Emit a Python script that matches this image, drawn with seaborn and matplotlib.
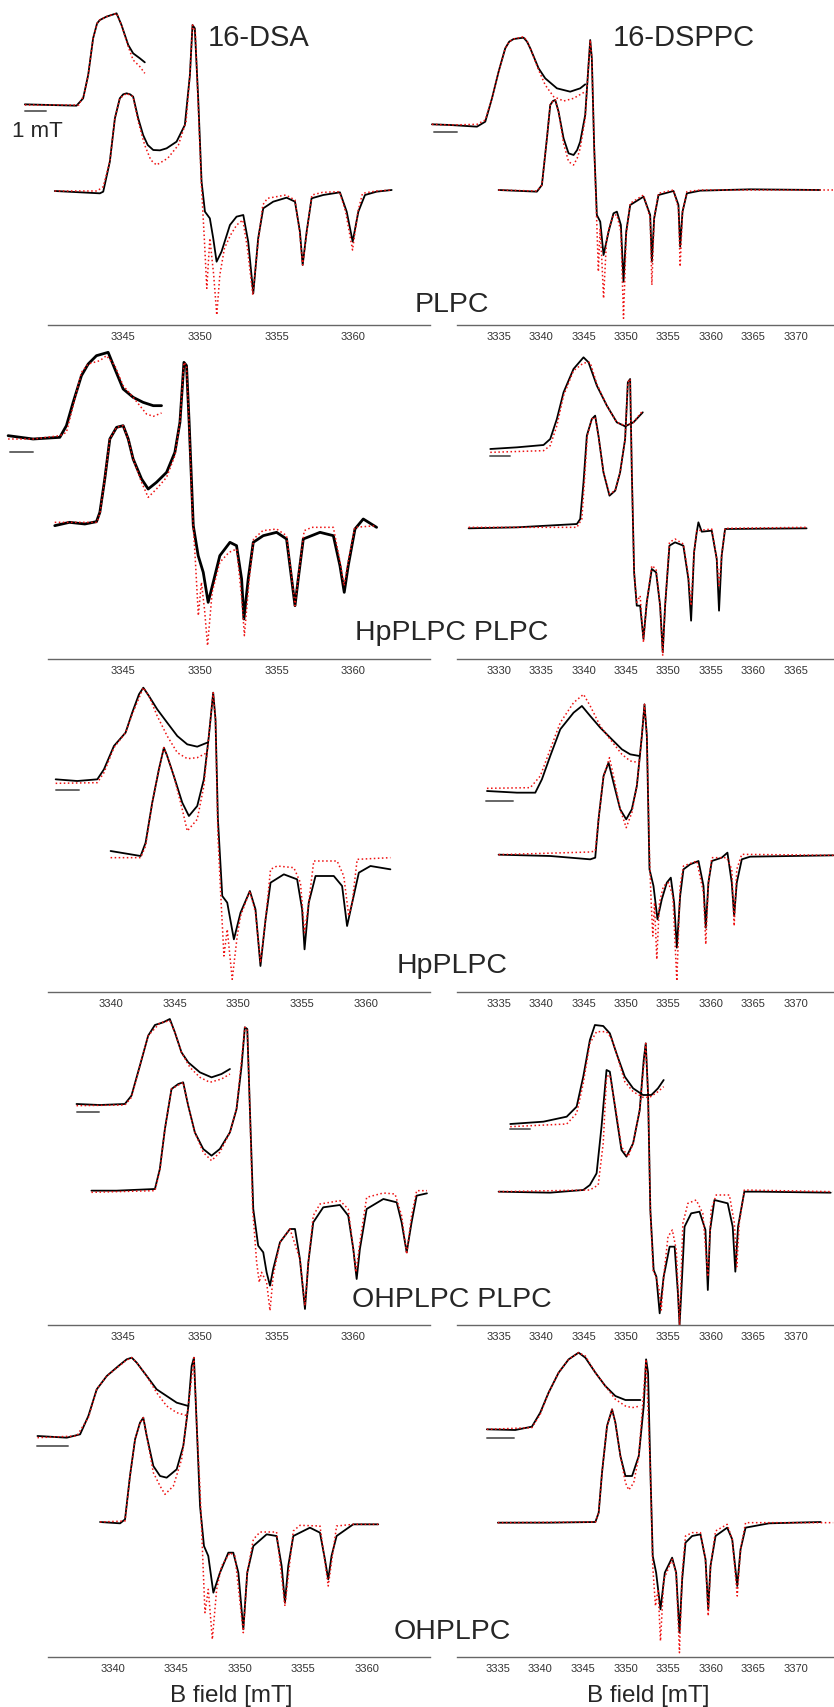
import pandas as pd
import seaborn as sns
import matplotlib
matplotlib.use("Agg")
import matplotlib.pyplot as plt

# spectra: (field [mT], signal [a.u.])
# ---- row 1, 16-DSA in PLPC
r1l_main_exp = [(3340.54,402),(3343.48,395),(3343.70,400),(3344.13,490),(3344.46,620),(3344.78,680),(3345.00,692),(3345.22,695),(3345.45,692),(3345.65,685),(3345.98,620),(3346.30,570),(3346.60,540),(3346.96,525),(3347.40,524),(3347.83,530),(3348.48,550),(3349.02,600),(3349.35,750),(3349.52,900),(3349.67,890),(3349.89,680),(3350.11,430),(3350.33,340),(3350.65,320),(3350.87,260),(3351.09,190),(3351.41,220),(3351.96,300),(3352.39,325),(3352.83,330),(3353.15,250),(3353.48,95),(3353.80,260),(3354.13,350),(3354.78,370),(3355.65,382),(3356.20,370),(3356.52,280),(3356.70,180),(3356.96,280),(3357.28,380),(3358.04,390),(3359.13,398),(3359.57,340),(3359.96,250),(3360.33,340),(3360.76,390),(3361.52,400),(3362.50,405)]
r1l_main_fit = [(3340.54,402),(3343.30,402),(3343.70,415),(3344.13,490),(3344.46,620),(3344.78,680),(3345.22,695),(3345.65,685),(3345.98,610),(3346.40,540),(3346.80,495),(3347.17,480),(3347.90,500),(3348.60,540),(3349.10,610),(3349.35,750),(3349.52,900),(3349.70,880),(3349.90,650),(3350.10,420),(3350.30,250),(3350.45,110),(3350.65,260),(3350.90,150),(3351.10,30),(3351.30,150),(3351.60,230),(3352.00,270),(3352.40,300),(3352.80,315),(3353.10,230),(3353.45,90),(3353.80,250),(3354.10,360),(3354.40,380),(3355.60,390),(3356.20,375),(3356.50,280),(3356.70,180),(3357.00,290),(3357.30,390),(3358.00,398),(3359.10,400),(3359.50,340),(3359.95,225),(3360.30,340),(3360.60,395),(3361.50,402),(3362.50,405)]
r1l_zoom_exp = [(3338.59,662),(3340.22,660),(3341.96,658),(3342.39,680),(3342.72,750),(3343.04,860),(3343.30,905),(3343.48,915),(3343.91,925),(3344.57,935),(3344.89,900),(3345.33,840),(3345.65,815),(3346.09,800),(3346.41,788)]
r1l_zoom_fit = [(3338.59,660),(3340.22,660),(3342.10,660),(3342.45,690),(3342.72,750),(3343.04,860),(3343.30,905),(3343.48,915),(3343.91,925),(3344.57,935),(3344.89,900),(3345.33,835),(3345.65,795),(3346.09,775),(3346.41,755)]
# ---- row 1, 16-DSPPC in PLPC
r1r_main_exp = [(3335.0,405),(3339.51,400),(3340.10,420),(3340.69,560),(3341.08,660),(3341.40,672),(3341.67,675),(3342.06,640),(3342.65,560),(3343.24,515),(3343.83,510),(3344.25,525),(3344.61,550),(3345.20,630),(3345.59,780),(3345.79,855),(3345.98,800),(3346.26,530),(3346.57,330),(3346.97,310),(3347.36,210),(3347.95,280),(3348.53,335),(3348.93,340),(3349.40,300),(3349.71,130),(3350.03,280),(3350.50,360),(3352.07,385),(3352.85,330),(3353.05,190),(3353.32,320),(3353.83,390),(3355.60,402),(3356.18,360),(3356.38,235),(3356.66,340),(3357.17,395),(3358.73,403),(3364.62,407),(3372.86,405)]
r1r_main_fit = [(3335.0,405),(3339.51,402),(3340.10,420),(3340.69,560),(3341.08,660),(3341.40,672),(3341.67,675),(3342.06,640),(3342.65,545),(3343.24,490),(3343.83,480),(3344.25,500),(3344.61,530),(3345.20,620),(3345.59,780),(3345.79,855),(3345.98,800),(3346.26,530),(3346.57,300),(3346.75,160),(3346.95,290),(3347.15,200),(3347.36,80),(3347.70,250),(3348.00,290),(3348.53,330),(3348.93,330),(3349.40,280),(3349.71,20),(3350.03,270),(3350.50,365),(3352.07,390),(3352.85,320),(3353.05,120),(3353.32,320),(3353.83,395),(3355.60,405),(3356.18,350),(3356.38,175),(3356.66,340),(3357.17,400),(3358.73,405),(3364.62,405),(3374.40,405)]
r1r_zoom_exp = [(3327.15,602),(3329.31,600),(3332.45,595),(3333.43,610),(3334.22,680),(3335.00,760),(3335.78,830),(3336.25,850),(3336.77,858),(3337.94,862),(3338.35,850),(3338.73,830),(3339.71,770),(3340.49,740),(3341.87,710),(3343.43,700),(3344.61,710),(3345.20,722)]
r1r_zoom_fit = [(3327.15,602),(3329.31,600),(3332.45,602),(3333.43,615),(3334.22,680),(3335.00,760),(3335.78,830),(3336.25,850),(3336.77,858),(3337.94,865),(3338.35,852),(3338.73,830),(3339.71,765),(3340.49,720),(3341.48,685),(3342.66,672),(3343.83,680),(3345.20,700)]
# ---- row 2, HpPLPC PLPC
r2l_main_exp = [(3340.54,400),(3341.5,410),(3342.5,405),(3343.26,412),(3343.48,440),(3343.80,540),(3344.13,660),(3344.57,695),(3345.00,700),(3345.33,660),(3345.65,600),(3346.20,540),(3346.63,510),(3347.17,530),(3347.83,560),(3348.37,620),(3348.70,710),(3348.96,890),(3349.13,880),(3349.30,710),(3349.57,400),(3349.89,310),(3350.22,260),(3350.54,170),(3350.87,230),(3351.30,310),(3351.96,350),(3352.39,340),(3352.72,240),(3352.87,120),(3353.15,240),(3353.48,350),(3354.13,370),(3355.00,380),(3355.65,360),(3355.98,240),(3356.20,160),(3356.41,240),(3356.74,360),(3357.83,380),(3358.70,370),(3359.13,280),(3359.41,200),(3359.67,280),(3360.11,390),(3360.65,420),(3361.52,395)]
r2l_main_fit = [(3340.54,410),(3343.30,410),(3343.50,440),(3343.80,540),(3344.13,660),(3344.57,695),(3345.00,700),(3345.33,660),(3345.65,600),(3346.20,530),(3346.63,485),(3347.17,510),(3347.83,545),(3348.37,610),(3348.70,710),(3348.96,890),(3349.13,880),(3349.30,700),(3349.50,450),(3349.70,300),(3349.90,130),(3350.10,230),(3350.30,150),(3350.50,40),(3350.80,200),(3351.30,290),(3351.90,320),(3352.40,330),(3352.75,170),(3352.90,70),(3353.20,230),(3353.50,360),(3354.10,385),(3355.00,390),(3355.65,370),(3356.00,240),(3356.20,160),(3356.45,260),(3356.80,385),(3357.30,395),(3358.70,395),(3359.10,300),(3359.40,220),(3359.70,300),(3360.10,395),(3361.52,400)]
r2l_zoom_exp = [(3337.50,670),(3339.13,660),(3340.87,665),(3341.30,700),(3341.74,770),(3342.28,850),(3342.72,885),(3343.26,910),(3344.02,920),(3344.46,870),(3345.00,810),(3345.65,785),(3346.30,770),(3346.96,760),(3347.50,760)]
r2l_zoom_fit = [(3337.50,660),(3339.13,660),(3340.87,670),(3341.30,680),(3341.74,760),(3342.28,860),(3342.72,885),(3343.48,895),(3343.91,910),(3344.46,880),(3345.00,820),(3345.65,785),(3346.52,735),(3346.96,728),(3347.50,738)]
r2r_main_exp = [(3326.47,392),(3332.16,395),(3339.22,405),(3339.61,420),(3340.00,530),(3340.39,670),(3340.98,720),(3341.37,730),(3341.76,670),(3342.35,560),(3343.06,490),(3343.73,505),(3344.31,560),(3344.90,660),(3345.22,830),(3345.49,840),(3345.69,560),(3345.96,260),(3346.27,160),(3346.67,160),(3347.06,60),(3347.45,170),(3348.04,270),(3348.55,260),(3349.02,160),(3349.33,20),(3349.61,160),(3350.12,340),(3350.78,350),(3351.76,340),(3352.35,240),(3352.67,115),(3353.02,320),(3353.33,380),(3353.53,410),(3353.92,382),(3355.10,385),(3355.69,300),(3355.96,145),(3356.27,310),(3356.67,390),(3366.27,392)]
r2r_main_fit = [(3326.47,395),(3332.16,395),(3339.22,395),(3339.80,420),(3340.10,530),(3340.45,670),(3340.98,720),(3341.37,725),(3341.76,670),(3342.35,560),(3343.06,495),(3343.73,505),(3344.31,560),(3344.90,660),(3345.22,830),(3345.49,840),(3345.69,560),(3345.96,260),(3346.27,170),(3346.67,190),(3347.06,50),(3347.45,170),(3348.04,280),(3348.55,270),(3349.02,160),(3349.33,10),(3349.61,160),(3350.12,350),(3350.78,360),(3351.76,345),(3352.35,250),(3352.67,160),(3353.02,320),(3353.33,385),(3355.10,390),(3355.69,300),(3355.96,220),(3356.27,310),(3356.67,392),(3366.27,395)]
r2r_zoom_exp = [(3329.02,630),(3332.16,635),(3335.29,642),(3336.08,660),(3336.86,720),(3337.65,800),(3338.82,870),(3340.00,905),(3340.59,890),(3341.57,820),(3342.75,760),(3343.92,710),(3344.90,698),(3345.88,710),(3346.98,740)]
r2r_zoom_fit = [(3329.02,620),(3335.29,625),(3336.08,640),(3336.86,700),(3337.65,790),(3338.82,865),(3340.00,888),(3340.78,890),(3341.57,825),(3342.75,760),(3343.92,710),(3344.90,700),(3345.88,710),(3346.98,745)]
# ---- row 3, HpPLPC
r3l_main_exp = [(3340.00,423),(3342.35,408),(3342.74,448),(3343.26,568),(3343.78,668),(3344.17,733),(3344.43,708),(3344.95,648),(3345.61,568),(3346.13,528),(3346.78,558),(3347.30,638),(3347.69,768),(3348.03,898),(3348.21,818),(3348.40,518),(3348.74,288),(3349.13,268),(3349.65,158),(3350.17,238),(3350.90,303),(3351.34,248),(3351.73,78),(3352.13,218),(3352.52,328),(3353.56,353),(3354.60,338),(3354.99,248),(3355.18,128),(3355.51,268),(3356.04,348),(3357.47,348),(3358.12,318),(3358.51,198),(3358.91,268),(3359.43,358),(3360.34,378),(3361.90,368)]
r3l_main_fit = [(3340.00,403),(3342.35,403),(3342.74,438),(3343.26,568),(3343.78,668),(3344.17,733),(3344.43,708),(3344.95,648),(3345.61,548),(3346.00,483),(3346.78,518),(3347.30,618),(3347.69,768),(3348.03,898),(3348.21,818),(3348.40,468),(3348.60,308),(3348.87,108),(3349.13,188),(3349.52,38),(3349.91,168),(3350.17,228),(3350.90,303),(3351.34,238),(3351.73,88),(3352.13,218),(3352.52,368),(3353.04,378),(3354.34,373),(3354.86,328),(3355.18,178),(3355.51,268),(3355.90,393),(3357.73,393),(3358.25,348),(3358.64,228),(3358.91,268),(3359.30,398),(3361.90,403)]
r3l_zoom_exp = [(3335.70,638),(3337.39,633),(3338.96,638),(3339.48,668),(3340.26,738),(3341.17,778),(3341.69,838),(3342.22,893),(3342.56,913),(3343.00,888),(3343.65,848),(3344.43,808),(3345.22,768),(3346.00,743),(3346.78,736),(3347.56,748)]
r3l_zoom_fit = [(3335.70,626),(3338.96,628),(3339.48,658),(3340.26,733),(3341.17,778),(3341.69,833),(3342.56,913),(3343.00,888),(3343.65,828),(3344.43,768),(3345.22,718),(3346.00,700),(3346.78,703),(3347.56,718)]
r3r_main_exp = [(3335.00,412),(3341.08,408),(3345.79,398),(3346.38,403),(3346.77,518),(3347.36,648),(3347.95,688),(3348.53,628),(3349.32,548),(3350.03,518),(3350.69,548),(3351.28,618),(3351.87,768),(3352.18,863),(3352.46,768),(3352.77,368),(3353.24,318),(3353.71,218),(3354.22,278),(3354.81,328),(3355.28,343),(3355.67,268),(3355.99,133),(3356.38,288),(3356.77,368),(3357.56,383),(3358.54,393),(3359.13,318),(3359.40,193),(3359.71,328),(3360.11,393),(3361.28,403),(3361.95,418),(3362.46,328),(3362.74,228),(3363.05,328),(3363.64,398),(3364.62,406),(3374.43,410)]
r3r_main_fit = [(3335.00,412),(3345.79,420),(3346.38,423),(3346.77,518),(3347.36,648),(3348.06,703),(3348.53,648),(3349.32,548),(3350.03,493),(3350.69,538),(3351.28,618),(3351.87,768),(3352.18,863),(3352.46,768),(3352.77,408),(3352.97,268),(3353.16,168),(3353.36,268),(3353.63,98),(3353.94,268),(3354.42,318),(3355.00,328),(3355.52,288),(3355.99,33),(3356.38,318),(3356.77,378),(3358.34,393),(3359.13,298),(3359.40,143),(3359.71,328),(3360.11,403),(3361.87,403),(3362.46,368),(3362.74,198),(3363.05,368),(3363.64,413),(3374.43,410)]
r3r_zoom_exp = [(3333.63,603),(3337.16,598),(3339.32,598),(3340.10,638),(3341.08,708),(3342.26,788),(3343.83,838),(3344.81,858),(3345.79,828),(3346.97,793),(3348.14,763),(3349.52,728),(3350.50,713),(3351.60,708)]
r3r_zoom_fit = [(3333.63,611),(3338.73,613),(3339.91,648),(3341.08,728),(3342.26,808),(3343.83,868),(3345.00,893),(3345.79,858),(3346.97,798),(3348.14,758),(3349.52,713),(3350.50,693),(3351.60,688)]
# ---- row 4, OHPLPC PLPC
r4l_main_exp = [(3342.93,403),(3344.57,403),(3347.07,408),(3347.39,468),(3347.72,588),(3348.15,708),(3348.59,723),(3348.91,728),(3349.24,658),(3349.67,578),(3350.22,528),(3350.76,508),(3351.30,528),(3351.96,578),(3352.39,648),(3352.72,778),(3352.93,893),(3353.09,888),(3353.26,648),(3353.48,348),(3353.80,238),(3354.13,218),(3354.35,158),(3354.57,118),(3354.78,168),(3355.22,248),(3355.87,288),(3356.20,288),(3356.52,198),(3356.85,48),(3357.07,188),(3357.39,308),(3358.04,353),(3359.13,360),(3359.67,328),(3360.00,228),(3360.22,138),(3360.43,228),(3360.87,348),(3361.96,378),(3362.83,368),(3363.15,308),(3363.48,218),(3363.80,308),(3364.13,388),(3364.80,395)]
r4l_main_fit = [(3342.93,398),(3347.07,403),(3347.39,463),(3347.72,588),(3348.15,708),(3348.91,728),(3349.24,658),(3349.67,578),(3350.22,518),(3350.76,493),(3351.30,518),(3351.96,578),(3352.39,648),(3352.93,893),(3353.09,888),(3353.26,648),(3353.44,348),(3353.70,188),(3353.87,128),(3354.02,158),(3354.35,128),(3354.57,43),(3354.78,148),(3355.22,248),(3355.87,288),(3356.52,198),(3356.85,58),(3357.07,188),(3357.39,328),(3357.83,363),(3359.13,373),(3359.67,348),(3360.00,228),(3360.17,158),(3360.43,248),(3360.87,383),(3361.96,396),(3362.72,393),(3363.15,328),(3363.48,213),(3363.80,328),(3364.13,403),(3364.80,403)]
r4l_zoom_exp = [(3341.96,663),(3343.48,660),(3345.11,663),(3345.54,688),(3346.09,778),(3346.63,868),(3347.07,900),(3347.61,908),(3348.04,918),(3348.37,878),(3348.80,818),(3349.24,788),(3350.00,758),(3350.76,743),(3351.41,753),(3351.96,768)]
r4l_zoom_fit = [(3341.96,658),(3345.11,660),(3345.54,683),(3346.09,778),(3346.63,868),(3347.39,906),(3348.04,913),(3348.37,878),(3348.80,818),(3349.35,773),(3350.00,743),(3350.65,728),(3351.41,738),(3351.96,753)]
r4r_main_exp = [(3335.00,400),(3341.06,397),(3344.97,405),(3345.75,420),(3346.54,455),(3347.12,595),(3347.71,765),(3348.10,760),(3348.88,625),(3349.47,525),(3350.06,505),(3350.84,545),(3351.62,645),(3352.09,795),(3352.33,845),(3352.60,695),(3352.87,345),(3353.26,165),(3353.58,145),(3353.97,35),(3354.44,145),(3355.14,235),(3355.73,235),(3356.12,95),(3356.31,0),(3356.51,95),(3356.90,295),(3357.68,335),(3358.66,340),(3359.36,285),(3359.64,105),(3359.91,285),(3360.42,375),(3361.98,365),(3362.57,295),(3362.88,160),(3363.20,295),(3363.94,400),(3365.70,400),(3374.11,397)]
r4r_main_fit = [(3335.00,400),(3345.75,405),(3346.73,420),(3347.32,545),(3347.71,745),(3348.10,750),(3348.88,635),(3349.47,535),(3350.25,505),(3350.84,545),(3351.62,645),(3352.33,845),(3352.60,695),(3352.87,345),(3353.19,165),(3353.58,140),(3353.90,105),(3354.16,45),(3354.44,145),(3354.95,265),(3355.46,285),(3355.93,225),(3356.31,0),(3356.70,305),(3357.29,365),(3358.27,375),(3359.05,335),(3359.64,145),(3360.03,345),(3360.62,390),(3362.18,390),(3362.77,305),(3363.05,175),(3363.34,305),(3363.94,405),(3374.30,400)]
r4r_zoom_exp = [(3336.37,603),(3340.28,610),(3343.02,625),(3344.19,655),(3344.97,745),(3345.75,855),(3346.34,900),(3347.32,897),(3348.10,875),(3348.88,815),(3349.86,745),(3350.84,710),(3352.01,690),(3352.99,690),(3353.77,710),(3354.44,735)]
r4r_zoom_fit = [(3336.37,595),(3343.02,603),(3344.19,635),(3344.97,725),(3345.75,845),(3346.54,880),(3347.71,880),(3348.30,860),(3348.88,815),(3349.86,730),(3350.84,700),(3352.01,683),(3352.79,683),(3353.77,700),(3354.44,715)]
# ---- row 5, OHPLPC
r5l_main_exp = [(3339.00,405),(3340.58,401),(3340.97,413),(3341.36,543),(3341.76,653),(3342.15,703),(3342.41,718),(3342.68,663),(3343.20,573),(3343.73,543),(3344.25,538),(3345.04,563),(3345.56,633),(3345.96,753),(3346.22,873),(3346.40,898),(3346.61,703),(3346.88,453),(3347.19,333),(3347.53,303),(3347.93,193),(3348.45,253),(3349.11,313),(3349.50,313),(3349.90,253),(3350.29,83),(3350.60,253),(3351.08,333),(3352.13,368),(3352.91,363),(3353.31,273),(3353.57,163),(3353.83,273),(3354.23,363),(3355.54,388),(3356.33,373),(3356.72,293),(3356.98,233),(3357.24,303),(3357.64,363),(3358.95,398),(3360.92,398)]
r5l_main_fit = [(3339.00,405),(3340.97,408),(3341.36,543),(3341.76,653),(3342.15,703),(3342.41,718),(3342.68,663),(3343.20,553),(3343.73,513),(3344.12,488),(3344.78,513),(3345.43,593),(3345.96,753),(3346.40,898),(3346.61,703),(3346.88,503),(3347.14,253),(3347.27,133),(3347.53,203),(3347.85,53),(3348.19,203),(3348.58,273),(3349.24,313),(3349.63,303),(3350.29,73),(3350.60,253),(3351.08,353),(3351.61,375),(3352.91,375),(3353.57,153),(3354.23,378),(3354.75,395),(3356.33,393),(3356.98,213),(3357.64,393),(3358.95,398),(3360.92,398)]
r5l_zoom_exp = [(3334.07,663),(3336.38,658),(3337.43,668),(3338.08,723),(3338.74,803),(3339.53,843),(3340.45,873),(3341.10,893),(3341.50,898),(3341.89,883),(3342.68,843),(3343.46,803),(3344.25,783),(3345.04,763),(3345.96,753)]
r5l_zoom_fit = [(3334.07,658),(3337.17,663),(3338.08,718),(3338.74,803),(3339.53,843),(3341.10,891),(3341.50,898),(3341.89,883),(3342.68,843),(3343.46,793),(3344.25,753),(3345.04,733),(3345.96,723)]
r5r_main_exp = [(3335.00,403),(3340.96,403),(3346.46,405),(3346.85,433),(3347.24,553),(3347.83,693),(3348.42,743),(3348.81,703),(3349.40,603),(3349.99,543),(3350.77,543),(3351.56,603),(3352.14,753),(3352.42,893),(3352.65,853),(3352.93,553),(3353.20,303),(3353.60,253),(3354.11,143),(3354.62,253),(3355.48,298),(3355.95,253),(3356.34,73),(3356.66,233),(3357.05,343),(3357.83,363),(3358.81,368),(3359.40,293),(3359.72,143),(3359.99,273),(3360.58,363),(3361.95,388),(3362.54,353),(3363.13,213),(3363.52,323),(3364.11,388),(3366.86,401),(3372.94,405)]
r5r_main_fit = [(3335.00,403),(3346.46,405),(3346.85,433),(3347.24,553),(3347.83,693),(3348.42,743),(3348.81,703),(3349.40,603),(3349.99,523),(3350.38,501),(3350.97,523),(3351.56,603),(3352.42,893),(3352.93,553),(3353.20,273),(3353.52,153),(3353.83,203),(3354.11,48),(3354.50,233),(3355.48,293),(3355.95,253),(3356.34,13),(3356.66,253),(3357.05,363),(3357.83,373),(3358.81,373),(3359.40,293),(3359.72,123),(3359.99,273),(3360.58,378),(3361.95,398),(3362.54,353),(3363.13,183),(3363.52,323),(3364.11,403),(3374.40,403)]
r5r_zoom_exp = [(3333.71,683),(3337.04,681),(3339.00,691),(3339.98,733),(3340.96,793),(3342.14,853),(3343.32,893),(3344.49,913),(3345.28,898),(3346.46,853),(3347.63,813),(3348.81,783),(3349.99,771),(3351.75,771)]
r5r_zoom_fit = [(3333.71,683),(3339.00,688),(3339.98,728),(3340.96,793),(3342.14,853),(3343.32,893),(3344.49,913),(3345.28,903),(3346.46,853),(3347.63,813),(3348.81,773),(3349.99,753),(3350.77,748),(3351.75,753)]

# 1 mT scale bars under the magnified parts: (start, end, level)
scale_bars = {
    "r1l": (3338.59, 3340.0, 642), "r1r": (3327.35, 3330.10, 580),
    "r2l": (3337.6, 3339.13, 622), "r2r": (3329.02, 3331.37, 608),
    "r3l": (3335.70, 3337.52, 605), "r3r": (3333.55, 3336.69, 572),
    "r4l": (3341.96, 3343.43, 640), "r4r": (3336.37, 3338.64, 587),
    "r5l": (3334.02, 3336.51, 633), "r5r": (3333.71, 3336.84, 657),
}

col_titles = ["16-DSA", "16-DSPPC"]
row_labels = ["PLPC", "HpPLPC PLPC", "HpPLPC", "OHPLPC PLPC", "OHPLPC"]
left_ticks = [[3345, 3350, 3355, 3360], [3345, 3350, 3355, 3360], [3340, 3345, 3350, 3355, 3360],
              [3345, 3350, 3355, 3360], [3340, 3345, 3350, 3355, 3360]]
right_ticks = [[3335, 3340, 3345, 3350, 3355, 3360, 3365, 3370], [3330, 3335, 3340, 3345, 3350, 3355, 3360, 3365],
               [3335, 3340, 3345, 3350, 3355, 3360, 3365, 3370], [3335, 3340, 3345, 3350, 3355, 3360, 3365, 3370],
               [3335, 3340, 3345, 3350, 3355, 3360, 3365, 3370]]
left_lims = [(3340.1, 3365.0), (3340.1, 3365.0), (3335.1, 3365.0), (3340.1, 3365.0), (3334.9, 3365.0)]
right_lims = [(3330.1, 3374.5), (3325.1, 3369.5), (3330.1, 3374.5), (3330.1, 3374.5), (3330.2, 3374.5)]

sns.set_style("white")
plt.rcParams["font.family"] = ["Liberation Sans", "DejaVu Sans"]

W, H = 834, 1708
fig = plt.figure(figsize=(W / 100, H / 100), dpi=100)

axis_rows = [326, 660, 993, 1326, 1658]
ax_h = 325
spectra = globals()


def to_df(pts):
    return pd.DataFrame(pts, columns=["field", "signal"])


for i in range(5):
    for side, x0, w, lims, ticks in (("l", 48, 382, left_lims, left_ticks),
                                     ("r", 457, 377, right_lims, right_ticks)):
        key = f"r{i + 1}{side}"
        ax = fig.add_axes([x0 / W, 1 - axis_rows[i] / H, w / W, ax_h / H])
        ax.set_facecolor("none")
        lw_exp = 2.0 if key == "r2l" else 1.3
        for part in ("main", "zoom"):
            sns.lineplot(data=to_df(spectra[f"{key}_{part}_exp"]), x="field", y="signal", ax=ax,
                         sort=False, estimator=None, color="black", lw=lw_exp, clip_on=False)
            sns.lineplot(data=to_df(spectra[f"{key}_{part}_fit"]), x="field", y="signal", ax=ax,
                         sort=False, estimator=None, color="#ee1111", lw=1.1, linestyle=":",
                         clip_on=False)
        b0, b1, lev = scale_bars[key]
        ax.plot([b0, b1], [lev, lev], color="#666666", lw=1.4, clip_on=False)
        ax.set_xlim(*lims[i])
        ax.set_ylim(0, 975)
        ax.set_xticks(ticks[i])
        ax.set_xticklabels([str(t) for t in ticks[i]])
        ax.set_yticks([])
        ax.set_xlabel("")
        ax.set_ylabel("")
        for s in ("top", "left", "right"):
            ax.spines[s].set_visible(False)
        ax.spines["bottom"].set_color("#666666")
        ax.spines["bottom"].set_linewidth(1.0)
        ax.tick_params(axis="x", direction="in", length=2.5, width=0.8, color="#666666",
                       labelsize=8, labelcolor="#333333", pad=4)

# text
fig.text(259 / W, 1 - 46 / H, col_titles[0], fontsize=21, ha="center", va="baseline")
fig.text(684 / W, 1 - 46 / H, col_titles[1], fontsize=21, ha="center", va="baseline")
fig.text(37 / W, 1 - 137 / H, "1 mT", fontsize=16, ha="center", va="baseline")
label_base = [312, 640, 973, 1307, 1639]
for lab, yb in zip(row_labels, label_base):
    fig.text(452 / W, 1 - yb / H, lab, fontsize=20.5, ha="center", va="baseline")
fig.text(231 / W, 1 - 1702 / H, "B field [mT]", fontsize=17.5, ha="center", va="baseline")
fig.text(648 / W, 1 - 1702 / H, "B field [mT]", fontsize=17.5, ha="center", va="baseline")

fig.savefig("out.png", dpi=100)
